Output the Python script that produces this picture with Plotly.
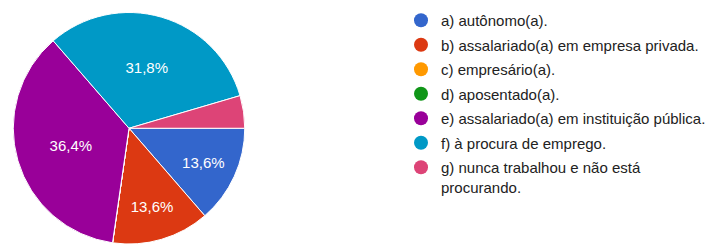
import plotly.graph_objects as go

labels = [
    "a) autônomo(a).",
    "b) assalariado(a) em empresa privada.",
    "c) empresário(a).",
    "d) aposentado(a).",
    "e) assalariado(a) em instituição pública.",
    "f) à procura de emprego.",
    "g) nunca trabalhou e não está<br>procurando.",
]
counts = [3, 3, 0, 0, 8, 7, 1]
colors = ["#3366CC", "#DC3912", "#FF9900", "#109618", "#990099", "#0099C6", "#DD4477"]

W, H = 716, 244
total = sum(counts)
templates = ["%{percent:.1%}" if v / total >= 0.05 else "" for v in counts]

fig = go.Figure()
fig.add_trace(go.Pie(
    labels=labels, values=counts, sort=False, direction="clockwise", rotation=90,
    marker=dict(colors=colors, line=dict(color="white", width=1)),
    texttemplate=templates, textposition="inside", insidetextorientation="horizontal",
    textfont=dict(color="white", size=15, family="Liberation Sans, Arial"),
    showlegend=False, hoverinfo="label+percent",
    domain=dict(x=[12.5 / W, 245.5 / W], y=[0, 1 - 12.5 / H]),
))
for i, (lab, col) in enumerate(zip(labels, colors)):
    fig.add_trace(go.Scatter(
        x=[None], y=[None], mode="markers", name=lab, legendgroup=str(i),
        marker=dict(color=col, size=14, symbol="circle"), hoverinfo="skip",
    ))

fig.update_layout(
    width=W, height=H, margin=dict(l=0, r=0, t=0, b=0),
    paper_bgcolor="white", plot_bgcolor="white",
    separators=",.",
    xaxis=dict(visible=False), yaxis=dict(visible=False),
    legend=dict(x=401 / W, y=1 - 4 / H, xanchor="left", yanchor="top",
                font=dict(size=15, color="#222222", family="Liberation Sans, Arial"),
                tracegroupgap=2, itemclick=False, itemdoubleclick=False, valign="top",
                bgcolor="rgba(0,0,0,0)"),
    showlegend=True,
)
fig.write_html("out.html", config={"displayModeBar": False},
               post_script="document.body.style.margin='0';")
